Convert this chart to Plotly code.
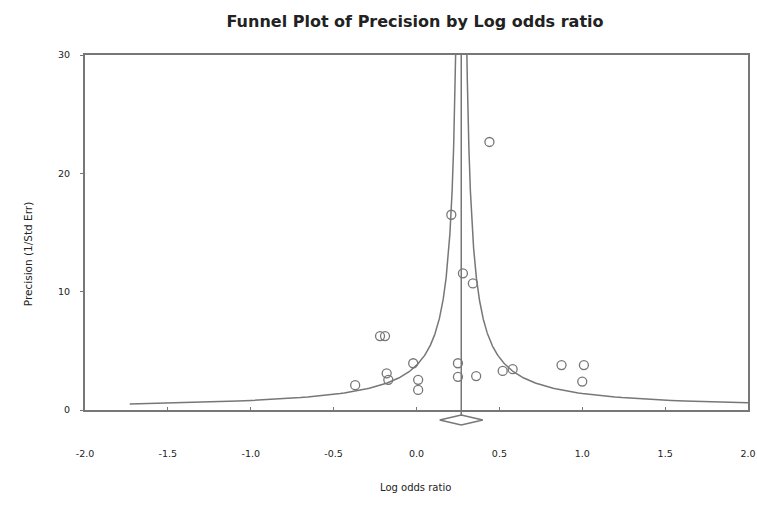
import numpy as np
import plotly.graph_objects as go

# Study-level data
log_odds = [0.44, 0.21, 0.28, 0.34, -0.22, -0.19, -0.02, -0.18, -0.17, -0.37,
            0.01, 0.01, 0.25, 0.25, 0.36, 0.52, 0.58, 0.875, 1.01, 1.00]
precision = [22.65, 16.5, 11.55, 10.7, 6.25, 6.25, 3.95, 3.1, 2.55, 2.1,
             2.55, 1.7, 3.95, 2.8, 2.87, 3.3, 3.45, 3.8, 3.8, 2.4]

# Summary estimate (diamond) and funnel constant
summary_est = 0.27
summary_lo = 0.14
summary_hi = 0.40
funnel_z = 1.02

x_ticks = [-2.0, -1.5, -1.0, -0.5, 0.0, 0.5, 1.0, 1.5, 2.0]
x_tick_text = ["-2.0", "-1.5", "-1.0", "-0.5", "0.0", "0.5", "1.0", "1.5", "2.0"]
y_ticks = [0, 10, 20, 30]

line_col = "#777777"
font_family = "DejaVu Sans, Liberation Sans, Arial, sans-serif"

yy = np.linspace(funnel_z / 2.0, 30, 600)
left_x = summary_est - funnel_z / yy
right_x = summary_est + funnel_z / yy

fig = go.Figure()
fig.add_trace(go.Scatter(x=left_x, y=yy, mode="lines",
                         line=dict(color=line_col, width=1.5), hoverinfo="skip"))
fig.add_trace(go.Scatter(x=right_x, y=yy, mode="lines",
                         line=dict(color=line_col, width=1.5), hoverinfo="skip"))
fig.add_trace(go.Scatter(x=[summary_est, summary_est], y=[0, 30], mode="lines",
                         line=dict(color=line_col, width=1.5), hoverinfo="skip"))
fig.add_trace(go.Scatter(x=log_odds, y=precision, mode="markers",
                         marker=dict(symbol="circle-open", size=9,
                                     color="#777777", line=dict(width=1.3))))

# Summary diamond below the axis
ytop, ymid, ybot = -0.014, -0.028, -0.042
fig.add_shape(type="path", xref="x", yref="paper",
              path=f"M {summary_lo},{ymid} L {summary_est},{ytop} L {summary_hi},{ymid} L {summary_est},{ybot} Z",
              line=dict(color=line_col, width=1.5), fillcolor="white")
fig.add_shape(type="line", xref="x", yref="paper",
              x0=summary_est, x1=summary_est, y0=0, y1=ytop,
              line=dict(color=line_col, width=1.5))

fig.update_layout(
    width=757, height=507,
    margin=dict(l=85, r=9, t=55, b=97),
    paper_bgcolor="white", plot_bgcolor="white",
    showlegend=False,
    font=dict(family=font_family, color="#333333"),
    title=dict(text="<b>Funnel Plot of Precision by Log odds ratio</b>",
               x=415 / 757, xanchor="center", xref="container",
               y=1 - 21 / 507, yanchor="middle", yref="container",
               font=dict(size=16, color="#222222", family=font_family)),
    xaxis=dict(range=[-2, 2], tickvals=x_ticks, ticktext=x_tick_text,
               showgrid=False, zeroline=False, automargin=False,
               showline=True, linecolor=line_col, linewidth=2, mirror=True,
               ticks="inside", ticklen=3, tickcolor=line_col,
               ticklabelstandoff=34,
               tickfont=dict(size=9.5, color="#222222")),
    yaxis=dict(range=[0, 30], tickvals=y_ticks,
               showgrid=False, zeroline=False, automargin=False,
               showline=True, linecolor=line_col, linewidth=2, mirror=True,
               ticks="outside", ticklen=3, tickcolor=line_col,
               ticklabelstandoff=8,
               tickfont=dict(size=9.5, color="#222222")),
)

fig.add_annotation(text="Log odds ratio", xref="paper", yref="paper",
                   x=0.499, y=-0.239, showarrow=False,
                   font=dict(size=10, color="#222222"))
fig.add_annotation(text="Precision (1/Std Err)", xref="paper", yref="paper",
                   x=-0.098, y=0.439, textangle=-90, showarrow=False,
                   font=dict(size=10.5, color="#222222"))

fig.write_html("out.html", config={"displayModeBar": False},
               post_script="document.body.style.margin='0';document.body.style.overflow='hidden';")
